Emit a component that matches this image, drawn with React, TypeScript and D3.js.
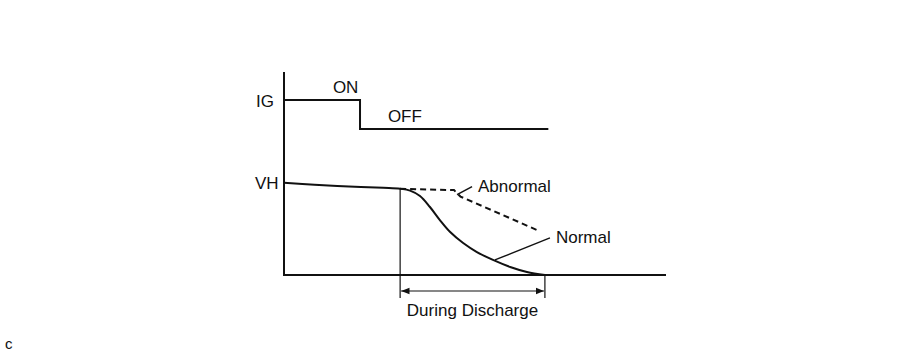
import React from 'react';
import * as d3 from 'd3';

// time in arbitrary units, level in arbitrary units
const igSignal: [number, number][] = [[0, 1.897], [1.99, 1.897], [1.99, 1.582], [6.92, 1.582]];
const normalCurve: [number, number][] = [
  [0, 1.0], [0.8, 0.978], [1.7, 0.96], [2.6, 0.945], [3.04, 0.935], [3.3, 0.915], [3.56, 0.856],
  [3.82, 0.737], [4.08, 0.596], [4.35, 0.466], [4.69, 0.347], [5.05, 0.249], [5.47, 0.163],
  [5.92, 0.087], [6.36, 0.033], [6.83, 0],
];
const abnormalCurve: [number, number][] = [[3.04, 0.935], [4.45, 0.92], [4.62, 0.85], [6.62, 0.488]];
const dischargeRange = [3.04, 6.83];
const vhLevel = 1.0;
const igHigh = 1.897;
const igLow = 1.582;

const W = 906;
const H = 354;

export default function App() {
  const x = d3.scaleLinear().domain([0, 10]).range([284, 666]);
  const y = d3.scaleLinear().domain([0, 2.2]).range([275, 72]);

  const line = d3.line<[number, number]>().x(d => x(d[0])).y(d => y(d[1]));
  const smooth = d3.line<[number, number]>().x(d => x(d[0])).y(d => y(d[1])).curve(d3.curveCatmullRom.alpha(0.5));

  const font = 'Liberation Sans, Arial, sans-serif';
  const x0 = x(0);
  const y0 = y(0);
  const dStart = x(dischargeRange[0]);
  const dEnd = x(dischargeRange[1]);
  const arrowY = y0 + 16;

  const nAt = normalCurve[12];
  const abAt: [number, number] = [4.53, 0.87];

  return (
    <svg width={W} height={H} style={{ position: 'absolute', left: 0, top: 0, background: '#fff' }}>
      <defs>
        <marker id="arr" viewBox="0 0 10 10" refX="10" refY="5" markerWidth="7" markerHeight="7" orient="auto-start-reverse">
          <path d="M0,1 L10,5 L0,9 z" fill="#111" />
        </marker>
      </defs>
      {/* axes */}
      <line x1={x0} x2={x0} y1={y(2.2)} y2={y0 + 1} stroke="#111" strokeWidth={2} />
      <line x1={x0} x2={x(10)} y1={y0} y2={y0} stroke="#111" strokeWidth={2} />

      {/* IG signal */}
      <path d={line(igSignal) ?? ''} fill="none" stroke="#111" strokeWidth={2} />
      <text x={x0 - 28} y={y(igHigh) + 7} fontSize={17} fontFamily={font} fill="#111">IG</text>
      <text x={x(1.28)} y={y(igHigh) - 7} fontSize={17} fontFamily={font} fill="#111">ON</text>
      <text x={x(2.72)} y={y(igLow) - 7} fontSize={17} fontFamily={font} fill="#111">OFF</text>

      {/* VH */}
      <text x={x0 - 29} y={y(vhLevel) + 6} fontSize={17} fontFamily={font} fill="#111">VH</text>
      <path d={smooth(normalCurve) ?? ''} fill="none" stroke="#111" strokeWidth={2} />
      <path d={line(abnormalCurve) ?? ''} fill="none" stroke="#111" strokeWidth={2} strokeDasharray="6,4" />

      {/* discharge marks */}
      <line x1={dStart} x2={dStart} y1={y(normalCurve[4][1])} y2={arrowY + 7} stroke="#111" strokeWidth={1.2} />
      <line x1={dEnd} x2={dEnd} y1={y0} y2={arrowY + 7} stroke="#111" strokeWidth={1.2} />
      <line x1={dStart + 1} x2={dEnd - 1} y1={arrowY} y2={arrowY} stroke="#111" strokeWidth={1.2}
        markerStart="url(#arr)" markerEnd="url(#arr)" />
      <text x={(dStart + dEnd) / 2} y={arrowY + 25} fontSize={17} fontFamily={font} fill="#111" textAnchor="middle">During Discharge</text>

      {/* labels with leaders */}
      <line x1={x(abAt[0])} x2={x(abAt[0]) + 15} y1={y(abAt[1])} y2={y(abAt[1]) - 8} stroke="#111" strokeWidth={1.4} />
      <text x={x(abAt[0]) + 21} y={y(abAt[1]) - 3} fontSize={17} fontFamily={font} fill="#111">Abnormal</text>
      <line x1={x(nAt[0]) + 2} x2={x(nAt[0]) + 57} y1={y(nAt[1])} y2={y(nAt[1]) - 22} stroke="#111" strokeWidth={1.4} />
      <text x={x(nAt[0]) + 63} y={y(nAt[1]) - 17} fontSize={17} fontFamily={font} fill="#111">Normal</text>

      <text x={5} y={349} fontSize={15} fontFamily={font} fill="#111">c</text>
    </svg>
  );
}
